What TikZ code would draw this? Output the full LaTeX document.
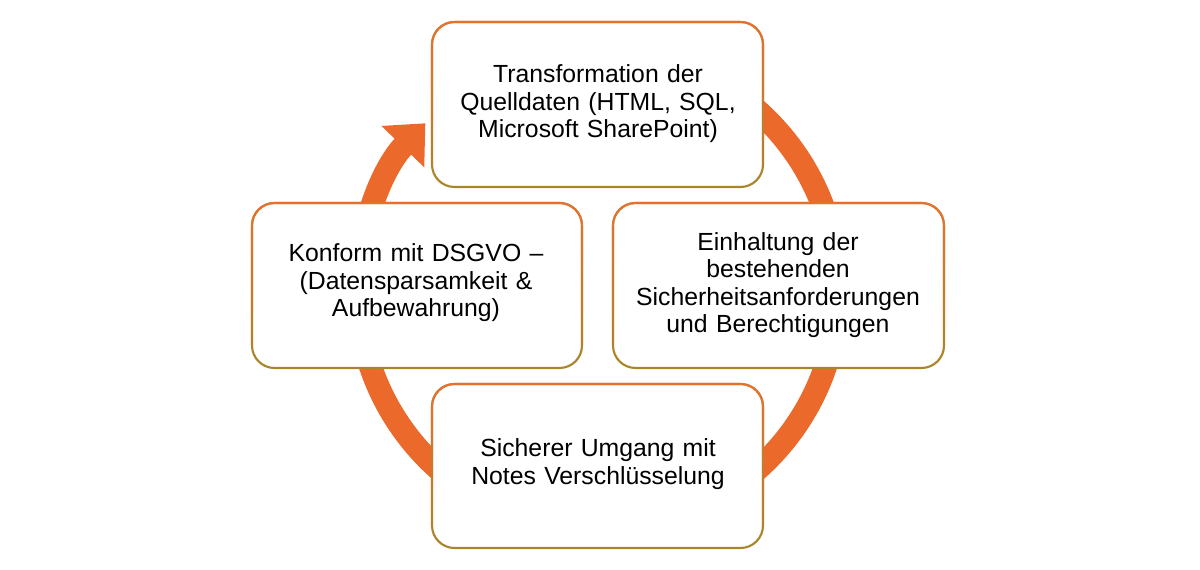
\documentclass[tikz,border=0pt]{standalone}
\usepackage{fontspec}
\setmainfont{Liberation Sans}
\usetikzlibrary{arrows.meta,fadings}
\definecolor{ringc}{HTML}{EB6A2B}
\definecolor{bordA}{HTML}{E8702E}
\definecolor{bordB}{HTML}{A8862A}
\tikzset{
  boxb/.style={fill=white,draw=bordB,line width=1.2pt,rounded corners=0.45cm},
  boxo/.style={draw=bordA,line width=1.2pt,rounded corners=0.45cm,path fading=south},
  lbl/.style={align=center,font=\fontsize{14.1pt}{15.6pt}\selectfont,text width=6.2cm}
}
\begin{document}
\begin{tikzpicture}[x=0.02cm,y=-0.02cm]
\useasboundingbox (0,0) rectangle (1200,570);
\coordinate (c) at (598,290);
\draw[ringc,line width=0.46cm,-{Triangle[width=1.15cm,length=0.65cm]}] (598,50) arc[start angle=90,end angle=-224,radius=4.8cm];
\foreach \n/\xa/\ya/\xb/\yb in {t/432/22/763/187,l/252/203/582/368,r/613/203/944/368,b/432/384/763/548}{
  \path[boxb] (\xa,\ya) rectangle (\xb,\yb);
  \path[boxo] (\xa,\ya) rectangle (\xb,\yb);
  \coordinate (\n) at ({(\xa+\xb)/2},{(\ya+\yb)/2});
}
\node[lbl] (tt) at (598,104) {Transformation der\\Quelldaten (HTML, SQL,\\Microsoft SharePoint)};
\node[lbl] (lt) at (416,283) {Konform mit DSGVO –\\(Datensparsamkeit \&\\Aufbewahrung)};
\node[lbl] (rt) at (778,285) {Einhaltung der\\bestehenden\\Sicherheitsanforderungen\\und Berechtigungen};
\node[lbl] (bt) at (598,464) {Sicherer Umgang mit\\Notes Verschlüsselung};
\end{tikzpicture}
\end{document}
